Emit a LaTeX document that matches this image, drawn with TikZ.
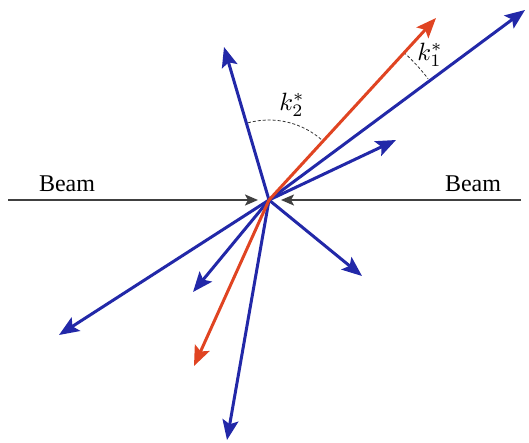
\documentclass[tikz,border=0pt]{standalone}
\usepackage{fontspec}
\setmainfont{Liberation Serif}
\usetikzlibrary{arrows.meta}
\definecolor{pblue}{HTML}{2228A8}
\definecolor{pred}{HTML}{E04422}
\definecolor{pgray}{HTML}{404040}
\tikzset{
  track/.style={line width=3pt, -{Stealth[length=20pt,width=16pt,inset=4pt]}},
  btrack/.style={track, pblue},
  rtrack/.style={track, pred},
  beamline/.style={line width=2pt, pgray, -{Stealth[length=13pt,width=11pt,inset=3pt]}},
  anglearc/.style={densely dashed, line width=0.8pt, black!80},
  lbl/.style={font=\fontsize{24}{28}\selectfont, inner sep=0pt},
  mlbl/.style={inner sep=0pt}
}
\begin{document}
\begin{tikzpicture}[x=1pt,y=-1pt]
\useasboundingbox (0,0) rectangle (529,442);
\coordinate (c) at (269,200);
% beams
\coordinate (bl) at (8,200);
\coordinate (blt) at (258,200);
\coordinate (br) at (521,200);
\coordinate (brt) at (281,200);
\draw[beamline] (bl) -- (blt);
\draw[beamline] (br) -- (brt);
\node[lbl] (beamL) at (67,184) {Beam};
\node[lbl] (beamR) at (473,184) {Beam};
% tips
\coordinate (t1) at (525,10);
\coordinate (t2) at (224,47);
\coordinate (t4) at (396,140);
\coordinate (t5) at (362,276);
\coordinate (t6) at (193,292);
\coordinate (t8) at (227,440);
\coordinate (t9) at (59,335);
\coordinate (r1) at (436,18);
\coordinate (r2) at (194,366);
% dashed arcs
\draw[anglearc] (c) ++(-105.25:80) arc[start angle=-105.25, end angle=-48, radius=80];
\draw[anglearc] (c) ++(-47.6:200) arc[start angle=-47.6, end angle=-37.3, radius=200];
% tracks
\draw[btrack] (c) -- (t1);
\draw[btrack] (c) -- (t2);
\draw[btrack] (c) -- (t4);
\draw[btrack] (c) -- (t5);
\draw[btrack] (c) -- (t6);
\draw[btrack] (c) -- (t8);
\draw[btrack] (c) -- (t9);
\draw[rtrack] (c) -- (r1);
\draw[rtrack] (c) -- (r2);
\node[mlbl] (k1) at (430,55) {\scalebox{2.5}{$k_1^*$}};
\node[mlbl] (k2) at (292,105) {\scalebox{2.5}{$k_2^*$}};
\end{tikzpicture}
\end{document}
